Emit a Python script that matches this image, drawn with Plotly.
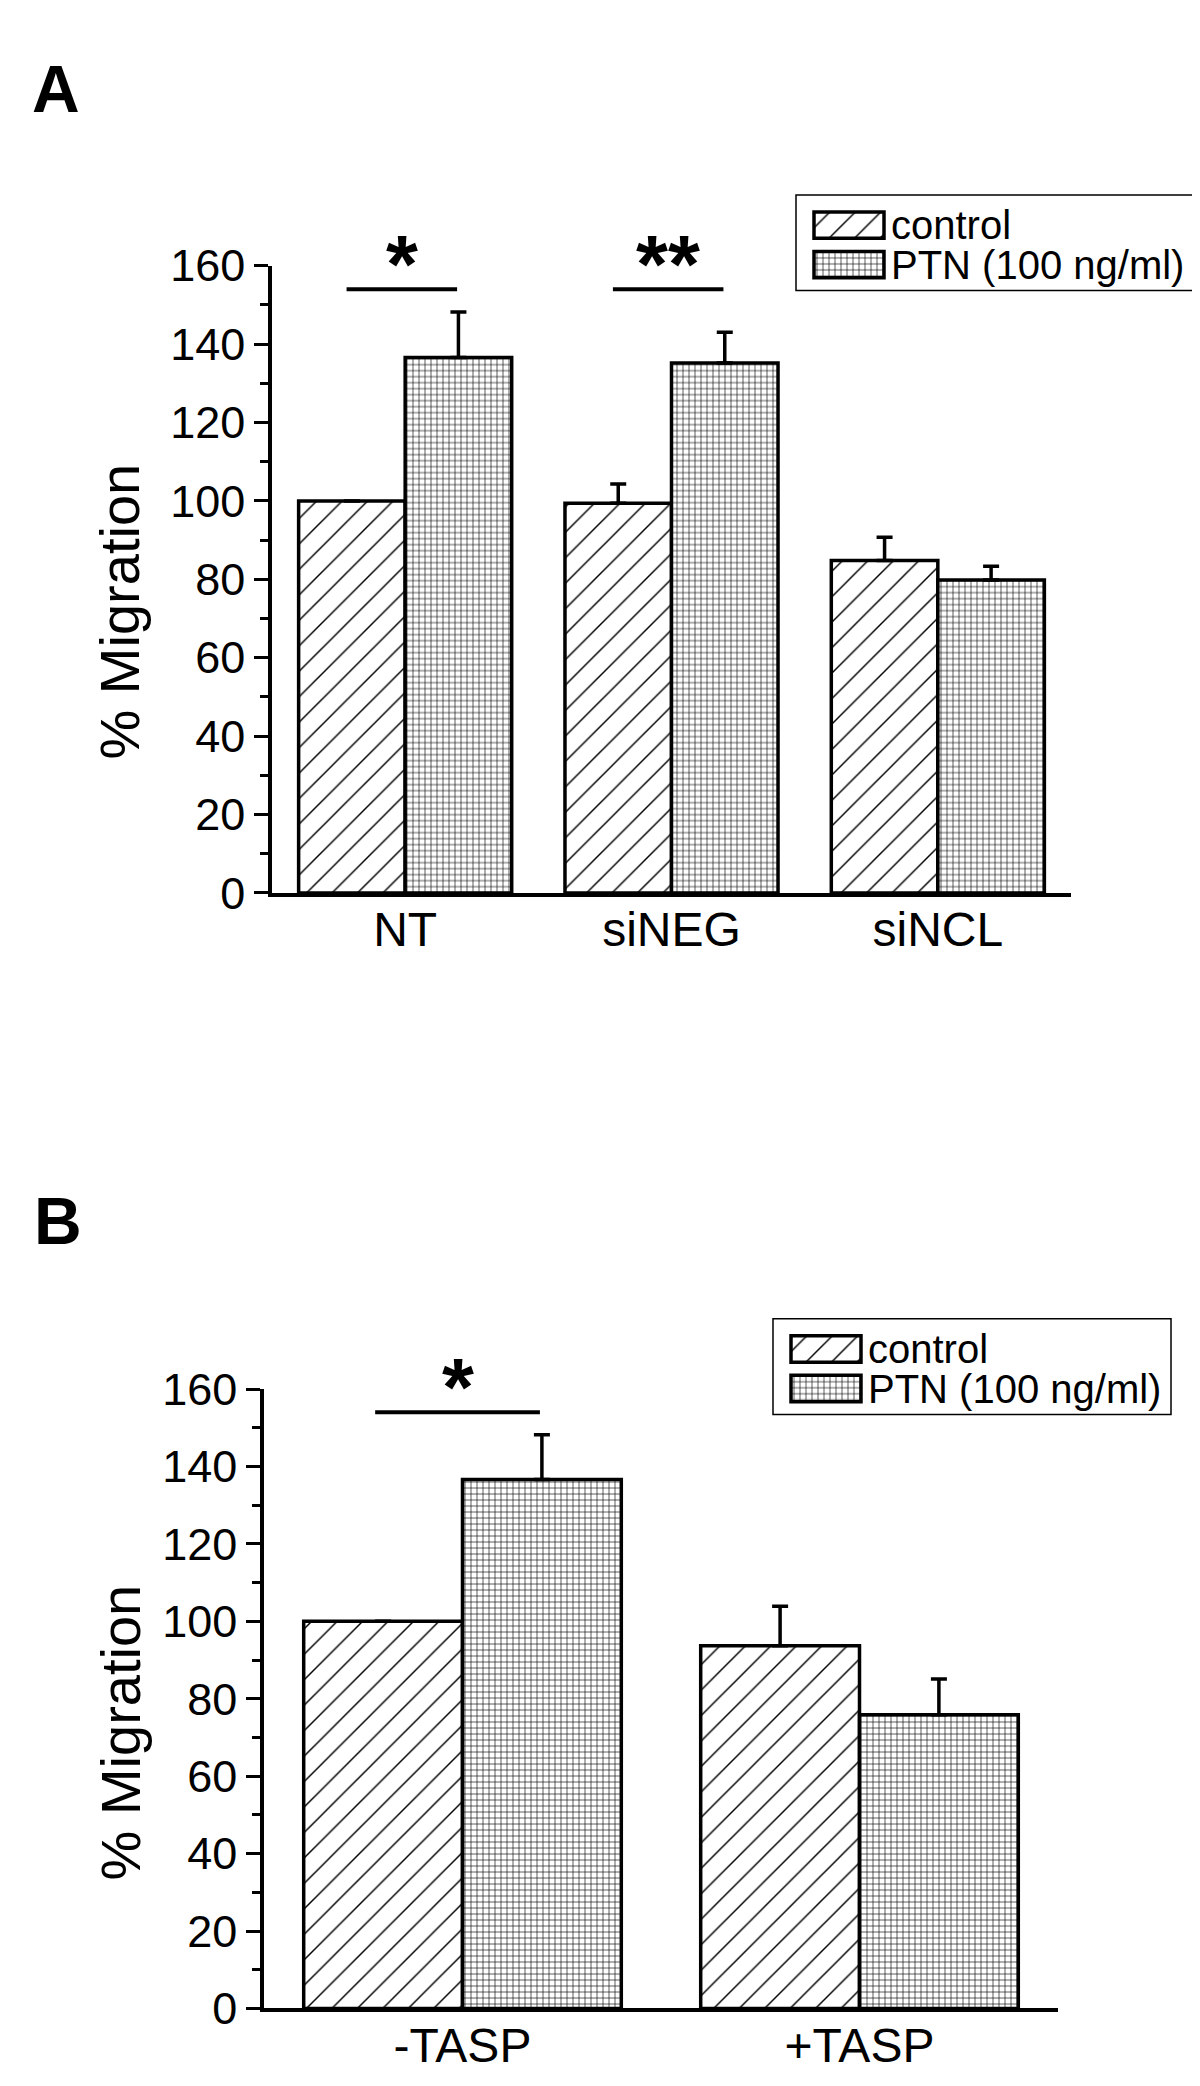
import plotly.graph_objects as go

W, H = 1200, 2086

# ---------------- data ----------------
series_names = ["control", "PTN (100 ng/ml)"]

cats_a = ["NT", "siNEG", "siNCL"]
control_a = [100, 99.4, 84.8]
control_a_err = [0, 4.9, 5.9]
ptn_a = [136.6, 135.2, 79.8]
ptn_a_err = [11.6, 7.8, 3.5]

cats_b = ["-TASP", "+TASP"]
control_b = [100, 93.7]
control_b_err = [0, 10.2]
ptn_b = [136.6, 75.9]
ptn_b_err = [11.6, 9.2]

y_tickvals = [0, 20, 40, 60, 80, 100, 120, 140, 160]
sig_level = 154
sig_a = [(0, "*"), (1, "**")]   # (category index, label)
sig_b = [(0, "*")]

# ---------------- styles ----------------
FONT = "Liberation Sans, Arial, Helvetica, sans-serif"
LW = 3.5
pat_ctrl = dict(shape="/", size=18, solidity=0.08, fgcolor="black", bgcolor="white", fillmode="replace")
pat_ptn = dict(shape="+", size=6, solidity=0.2, fgcolor="black", bgcolor="white", fillmode="replace")
patterns = [pat_ctrl, pat_ptn]


def px(x):
    return x / W


def py(y):
    return 1 - y / H


fig = go.Figure()


def add_panel(cats, vals, errs, xa, ya):
    for name, v, e, pat in zip(series_names, vals, errs, patterns):
        fig.add_trace(go.Bar(
            x=cats, y=v, name=name, xaxis=xa, yaxis=ya, showlegend=False,
            marker=dict(color="white", pattern=pat, line=dict(color="black", width=LW)),
            error_y=dict(type="data", symmetric=False, array=e, arrayminus=[0] * len(e),
                         color="black", thickness=LW, width=8),
        ))


add_panel(cats_a, [control_a, ptn_a], [control_a_err, ptn_a_err], "x", "y")
add_panel(cats_b, [control_b, ptn_b], [control_b_err, ptn_b_err], "x2", "y2")


# legend swatches drawn on small hidden axes
def add_legend_swatches(xa, ya):
    rows = [31, 71.5]
    for name, pat, r in zip(series_names, patterns, rows):
        fig.add_trace(go.Bar(
            y=[r], x=[70], base=[18], width=[27], orientation="h",
            xaxis=xa, yaxis=ya, showlegend=False, hoverinfo="skip",
            marker=dict(color="white", pattern=pat, line=dict(color="black", width=LW)),
        ))
        fig.add_annotation(x=93, y=r, xref=xa, yref=ya, text=name, showarrow=False,
                           xanchor="left", yanchor="middle",
                           font=dict(family=FONT, size=40, color="black"))


add_legend_swatches("x3", "y3")
add_legend_swatches("x4", "y4")

axis_common = dict(showline=True, linecolor="black", linewidth=LW, showgrid=False,
                   zeroline=False, mirror=False)
yaxis_common = dict(axis_common, range=[0, 160], tickvals=y_tickvals, ticks="outside",
                    ticklen=14, tickwidth=3, tickcolor="black",
                    minor=dict(dtick=10, ticks="outside", ticklen=8, tickwidth=3, tickcolor="black"),
                    tickfont=dict(family=FONT, size=45, color="black"))
xaxis_common = dict(axis_common, ticks="", ticklen=0, tickfont=dict(family=FONT, size=48, color="black"),
                    ticklabelstandoff=-8)

fig.update_layout(
    width=W, height=H, margin=dict(l=0, r=0, t=0, b=0),
    paper_bgcolor="white", plot_bgcolor="white",
    barmode="group", bargap=0.2, bargroupgap=0,
    font=dict(family=FONT, color="black"),
    xaxis=dict(xaxis_common, domain=[px(264), px(1063)], anchor="y", range=[-0.5, 2.5]),
    yaxis=dict(yaxis_common, domain=[py(881.5), py(238.5)], anchor="x"),
    xaxis2=dict(xaxis_common, domain=[px(256), px(1050)], anchor="y2", range=[-0.5, 1.5]),
    yaxis2=dict(yaxis_common, domain=[py(2025), py(1390)], anchor="x2"),
    xaxis3=dict(domain=[px(788), px(1192)], anchor="y3", range=[0, 404], visible=False),
    yaxis3=dict(domain=[py(264), py(166)], anchor="x3", range=[98, 0], visible=False),
    xaxis4=dict(domain=[px(765), px(1163)], anchor="y4", range=[0, 398], visible=False),
    yaxis4=dict(domain=[py(1416), py(1318)], anchor="x4", range=[98, 0], visible=False),
    showlegend=False,
)

# legend boxes
for (x0, x1, y0, y1) in [(788, 1192, 166, 264), (765, 1163, 1318, 1416)]:
    fig.add_shape(type="rect", xref="paper", yref="paper", x0=px(x0), x1=px(x1),
                  y0=py(y1), y1=py(y0), line=dict(color="black", width=1.5))


# significance bars and stars
def add_sig(sigs, xr, yr):
    for ci, lab in sigs:
        fig.add_shape(type="line", xref=xr, yref=yr, x0=ci - 0.22, x1=ci + 0.195,
                      y0=sig_level, y1=sig_level, line=dict(color="black", width=4))
        fig.add_annotation(x=ci - 0.012, y=sig_level, xref=xr, yref=yr, text=f"<b>{lab}</b>",
                           showarrow=False, yanchor="bottom", yshift=-22,
                           font=dict(family=FONT, size=82, color="black"))


add_sig(sig_a, "x", "y")
add_sig(sig_b, "x2", "y2")

# y-axis titles
for yc in [593, 1742]:
    fig.add_annotation(x=px(112), y=py(yc), xref="paper", yref="paper", text="% Migration",
                       textangle=-90, showarrow=False, xanchor="center", yanchor="middle",
                       font=dict(family=FONT, size=56, color="black"))

# panel letters
for lab, xc, yc in [("A", 48, 57), ("B", 50, 1218)]:
    fig.add_annotation(x=px(xc), y=py(yc), xref="paper", yref="paper", text=f"<b>{lab}</b>",
                       showarrow=False, xanchor="center", yanchor="middle",
                       font=dict(family=FONT, size=66, color="black"))

fig.write_html("out.html")
